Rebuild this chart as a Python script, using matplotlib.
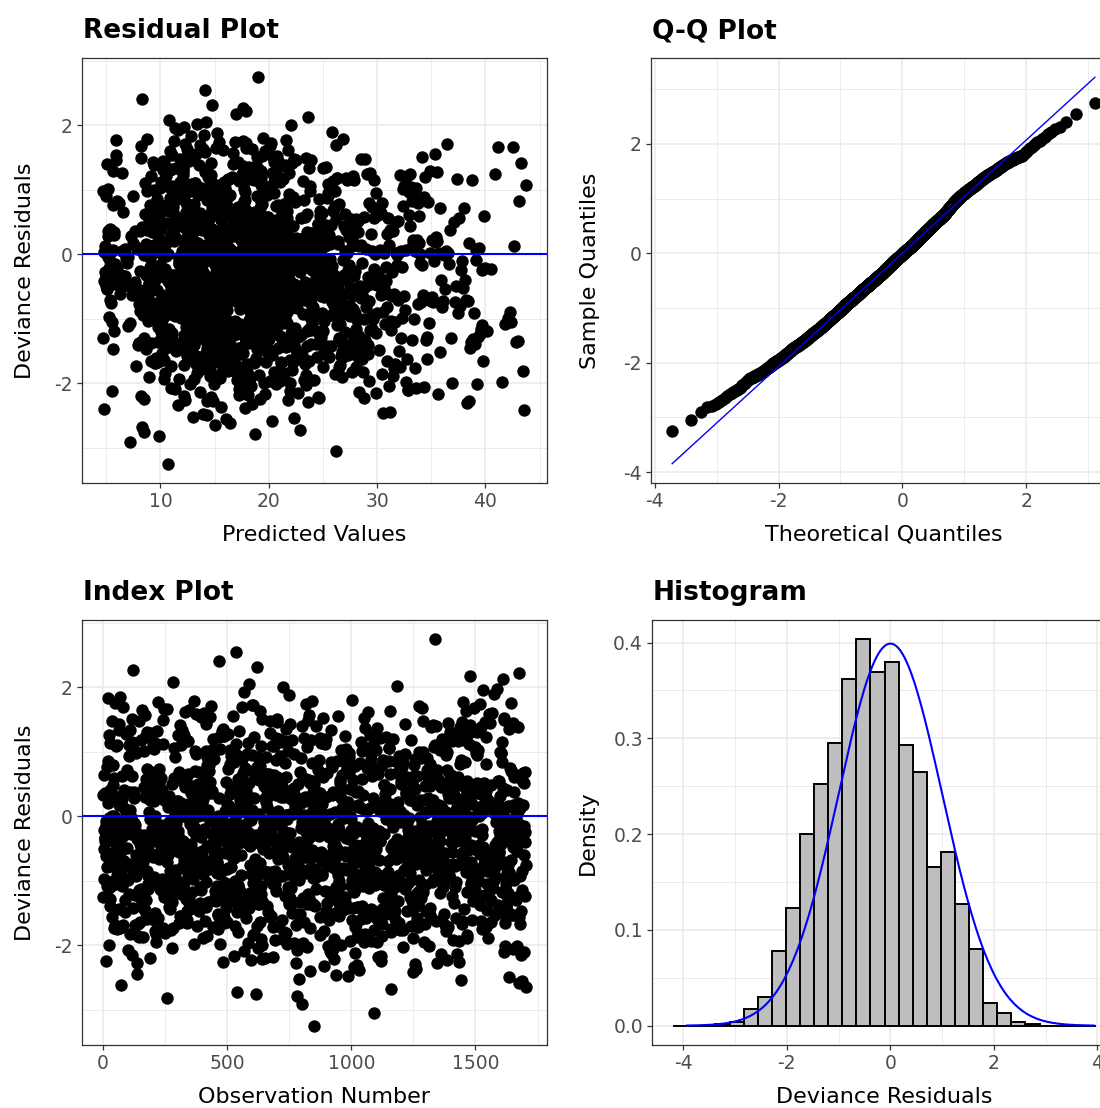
import matplotlib

matplotlib.use("Agg")
import matplotlib.pyplot as plt
import numpy as np
from statistics import NormalDist
from matplotlib.ticker import FormatStrFormatter, MultipleLocator

plt.rcParams["font.family"] = ["DejaVu Sans"]
plt.rcParams["axes.unicode_minus"] = False

resid_bin_start = -4.197
resid_bin_width = 0.2722
resid_counts = [0, 0, 0, 1, 2, 8, 14, 36, 57, 93, 117, 137, 168, 187, 171, 176,
                136, 123, 77, 84, 59, 37, 11, 6, 2, 1, 0, 0, 0, 0]

pred_edges = [4.7, 6, 8, 10, 12, 14, 16, 18, 20, 22, 24, 26, 28, 30, 32, 34, 36, 38, 40, 42, 43.8]
pred_counts = [45, 30, 88, 140, 180, 195, 192, 180, 140, 110, 90, 75, 60, 45, 40, 30, 20, 25, 6, 12]

# reference curve drawn on the histogram (standard normal density)
curve_range = (-3.93, 3.93)

W, H = 1100, 1108
BLUE = "#0000FF"
DOT = 80


def spread(edges, counts):
    vals = []
    for lo, hi, c in zip(edges[:-1], edges[1:], counts):
        if c:
            vals.extend(lo + (hi - lo) * (np.arange(c) + 0.5) / c)
    return np.array(vals)


resid_edges = resid_bin_start + resid_bin_width * np.arange(len(resid_counts) + 1)
resid_sorted = spread(resid_edges, resid_counts)
pred_sorted = spread(pred_edges, pred_counts)
n = len(resid_sorted)

# observation order is not readable from the picture: use a fixed deterministic scramble
j = np.arange(n, dtype=float)
key_obs = (np.sin(j * 12.9898 + 78.233) * 43758.5453) % 1
key_fit = (np.sin(j * 39.3468 + 11.135) * 24634.6345) % 1
resid = resid_sorted[np.argsort(np.argsort(key_obs))]
pred = pred_sorted[np.argsort(np.argsort(key_fit))]
obs = np.arange(1, n + 1)


def make_ax(fig, left, top, width=465, height=425):
    return fig.add_axes([left / W, 1 - (top + height) / H, width / W, height / H])


def style(ax, xstep, ystep, yfmt=None):
    ax.use_sticky_edges = False
    ax.set_facecolor("white")
    for sp in ax.spines.values():
        sp.set_color("#333333")
        sp.set_linewidth(0.9)
    ax.xaxis.set_major_locator(MultipleLocator(xstep))
    ax.xaxis.set_minor_locator(MultipleLocator(xstep / 2))
    ax.yaxis.set_major_locator(MultipleLocator(ystep))
    ax.yaxis.set_minor_locator(MultipleLocator(ystep / 2))
    if yfmt:
        ax.yaxis.set_major_formatter(FormatStrFormatter(yfmt))
    ax.grid(which="major", color="#EBEBEB", linewidth=1.2)
    ax.grid(which="minor", color="#EBEBEB", linewidth=0.7)
    ax.set_axisbelow(True)
    ax.tick_params(which="major", length=3.5, width=0.9, color="#333333",
                   labelsize=13.5, labelcolor="#4D4D4D", pad=3)
    ax.tick_params(which="minor", length=0)
    ax.margins(0.05)


def labels(ax, xlabel, ylabel, ylab_x):
    ax.set_xlabel(xlabel, fontsize=16, va="center")
    ax.set_ylabel(ylabel, fontsize=16, va="center")
    ax.xaxis.set_label_coords(0.5, -0.122)
    ax.yaxis.set_label_coords(ylab_x, 0.5)


fig = plt.figure(figsize=(W / 100, H / 100), dpi=100)

# Residual Plot
ax1 = make_ax(fig, 82, 58)
ax1.scatter(pred, resid, s=DOT, color="black", linewidths=0, zorder=2)
ax1.axhline(0, color=BLUE, linewidth=1.5, zorder=3)
style(ax1, 10, 2)
labels(ax1, "Predicted Values", "Deviance Residuals", -0.1226)
fig.text(83 / W, 1 - 38 / H, "Residual Plot", fontsize=19, fontweight="bold", ha="left", va="baseline")

# Q-Q Plot
ax2 = make_ax(fig, 651, 58)
sample = np.sort(resid)
nd = NormalDist(resid.mean(), resid.std(ddof=1))
probs = (np.arange(1, n + 1) - 0.5) / n
theo = np.array([nd.inv_cdf(p) for p in probs])
q1, q3 = np.quantile(sample, [0.25, 0.75])
t1, t3 = nd.inv_cdf(0.25), nd.inv_cdf(0.75)
slope = (q3 - q1) / (t3 - t1)
icpt = q1 - slope * t1
ax2.scatter(theo, sample, s=DOT, color="black", linewidths=0, zorder=2)
line_x = np.array([theo[0], theo[-1]])
ax2.plot(line_x, icpt + slope * line_x, color=BLUE, linewidth=1.0, zorder=3)
style(ax2, 2, 2)
labels(ax2, "Theoretical Quantiles", "Sample Quantiles", -0.131)
fig.text(652 / W, 1 - 38 / H, "Q-Q Plot", fontsize=19, fontweight="bold", ha="left", va="baseline")

# Index Plot
ax3 = make_ax(fig, 82, 620, height=425)
ax3.scatter(obs, resid, s=DOT, color="black", linewidths=0, zorder=2)
ax3.axhline(0, color=BLUE, linewidth=1.5, zorder=3)
style(ax3, 500, 2)
labels(ax3, "Observation Number", "Deviance Residuals", -0.1226)
fig.text(83 / W, 1 - 600 / H, "Index Plot", fontsize=19, fontweight="bold", ha="left", va="baseline")

# Histogram
ax4 = make_ax(fig, 652, 620, height=425)
ax4.hist(resid, bins=resid_edges, density=True, color="#BEBEBE", edgecolor="black", linewidth=1.4, zorder=2)
xs = np.linspace(curve_range[0], curve_range[1], 201)
ax4.plot(xs, np.exp(-xs ** 2 / 2) / np.sqrt(2 * np.pi), color=BLUE, linewidth=1.5, zorder=3)
style(ax4, 2, 0.1, "%.1f")
labels(ax4, "Deviance Residuals", "Density", -0.138)
fig.text(653 / W, 1 - 600 / H, "Histogram", fontsize=19, fontweight="bold", ha="left", va="baseline")

fig.savefig("out.png", dpi=100)
